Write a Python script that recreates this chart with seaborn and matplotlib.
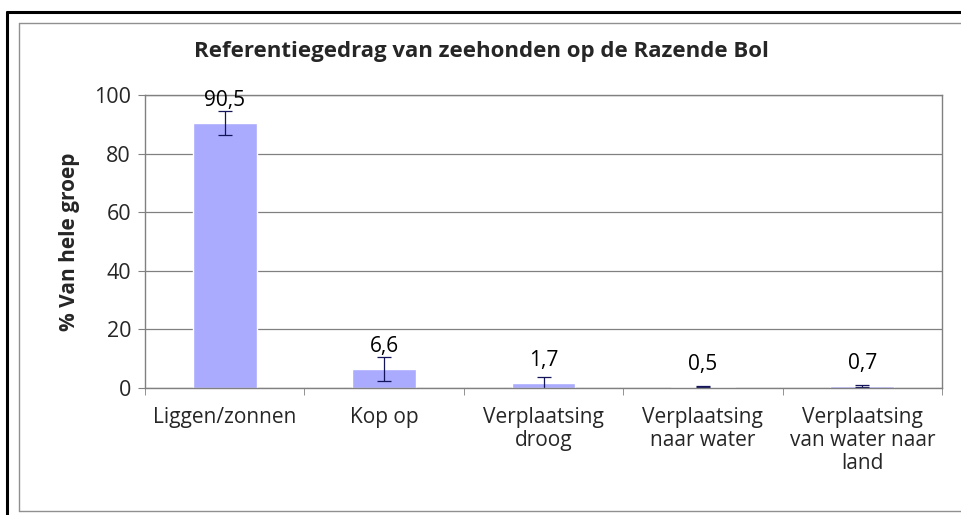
import matplotlib
matplotlib.use('Agg')
import matplotlib.pyplot as plt
import seaborn as sns
import pandas as pd
from matplotlib.lines import Line2D

categories = ['Liggen/zonnen', 'Kop op', 'Verplaatsing\ndroog',
              'Verplaatsing\nnaar water', 'Verplaatsing\nvan water naar\nland']
values = [90.5, 6.6, 1.7, 0.5, 0.7]
errors = [4.1, 4.1, 2.2, 0.3, 0.3]
labels = ['90,5', '6,6', '1,7', '0,5', '0,7']
yticks = [0, 20, 40, 60, 80, 100]

sns.set_style('white')
plt.rcParams['font.family'] = ['Open Sans', 'DejaVu Sans']

data = pd.DataFrame({'gedrag': categories, 'waarde': values})

fig = plt.figure(figsize=(9.62, 5.15), dpi=100)
ax = fig.add_axes([145 / 962, 127 / 515, 797 / 962, 293 / 515])

sns.barplot(data=data, x='gedrag', y='waarde', color='#aaaaff', saturation=1,
            width=0.4, errorbar=None, ax=ax)
ax.errorbar(range(len(values)), values, yerr=errors, fmt='none',
            ecolor='#14145a', elinewidth=0.9, capsize=5, capthick=0.9)

for i, (v, lab) in enumerate(zip(values, labels)):
    ax.annotate(lab, (i, v), xytext=(0, 16), textcoords='offset points',
                ha='center', va='center', fontsize=15, color='black')

ax.set_ylim(0, 100)
ax.set_xlim(-0.5, len(values) - 0.5)
ax.set_yticks(yticks)
ax.set_yticklabels([str(t) for t in yticks], fontsize=15.5)
ax.yaxis.grid(True, color='#808080', linewidth=0.9)
ax.set_axisbelow(True)
ax.tick_params(axis='y', direction='out', length=5, color='#808080', pad=5, left=True)
ax.set_xticks(range(len(values)))
ax.set_xticklabels(categories, fontsize=15, linespacing=1.12)
ax.set_xticks([i - 0.5 for i in range(len(values) + 1)], minor=True)
ax.tick_params(axis='x', which='major', length=0, pad=14)
ax.tick_params(axis='x', which='minor', direction='out', length=5, color='#808080', bottom=True)
for s in ax.spines.values():
    s.set_color('#808080')
    s.set_linewidth(1.0)
ax.set_xlabel('')
ax.set_ylabel('% Van hele groep', fontsize=15, fontweight='bold', labelpad=10)

fig.text(0.5, 1 - 52 / 515, 'Referentiegedrag van zeehonden op de Razende Bol',
         ha='center', va='center', fontsize=16, fontweight='bold')

# outer frames
W, H = 962, 515
fig.add_artist(Line2D([7 / W, 1], [1 - 12 / H, 1 - 12 / H], color='black', lw=2.2))
fig.add_artist(Line2D([7 / W, 7 / W], [0, 1 - 12 / H], color='black', lw=2.2))
gray = '#909090'
fig.add_artist(Line2D([19 / W, 1], [1 - 23 / H, 1 - 23 / H], color=gray, lw=1))
fig.add_artist(Line2D([19 / W, 19 / W], [1 - 511 / H, 1 - 23 / H], color=gray, lw=1))
fig.add_artist(Line2D([19 / W, 1], [1 - 511 / H, 1 - 511 / H], color=gray, lw=1))

fig.savefig('out.png', dpi=100)
